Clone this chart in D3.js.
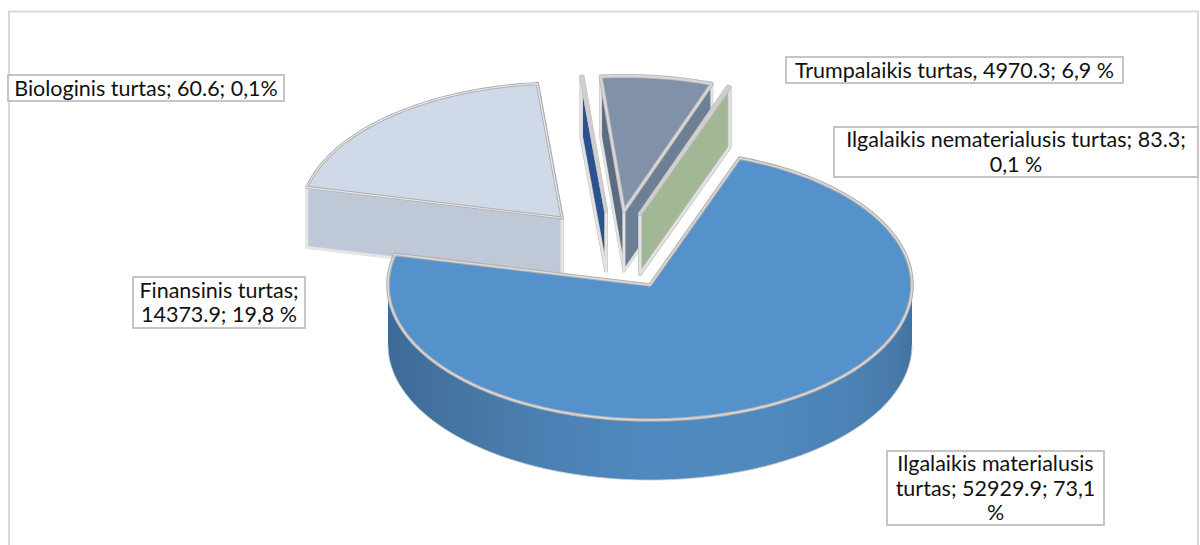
<!DOCTYPE html>
<html><head><meta charset="utf-8">
<script src="https://cdn.jsdelivr.net/npm/d3@7"></script>
<style>html,body{margin:0;padding:0;background:#fff;overflow:hidden}svg{display:block}</style>
</head><body><div id="c"></div>
<script>
const categories = ["Ilgalaikis materialusis turtas","Finansinis turtas","Biologinis turtas","Trumpalaikis turtas","Ilgalaikis nematerialusis turtas"];
const values = [52929.9,14373.9,60.6,4970.3,83.3];
const percentLabels = ["73,1 %","19,8 %","0,1%","6,9 %","0,1 %"];
const labelLines = [
  ["Ilgalaikis materialusis","turtas; 52929.9; 73,1","%"],
  ["Finansinis turtas;","14373.9; 19,8 %"],
  ["Biologinis turtas; 60.6; 0,1%"],
  ["Trumpalaikis turtas, 4970.3; 6,9 %"],
  ["Ilgalaikis nematerialusis turtas; 83.3;","0,1 %"]
];

const W=1200,H=545;
const svg=d3.select("#c").append("svg").attr("width",W).attr("height",H);
const defs=svg.append("defs");
const grad=defs.append("linearGradient").attr("id","mainWall").attr("gradientUnits","userSpaceOnUse")
  .attr("x1",386).attr("x2",914).attr("y1",0).attr("y2",0);
[[0,"#3d6a98"],[.12,"#44749f"],[.3,"#4b80b3"],[.5,"#5089bf"],[.72,"#5089bd"],[.88,"#4c82b5"],[.97,"#477aa9"],[1,"#41709e"]]
  .forEach(s=>grad.append("stop").attr("offset",s[0]).attr("stop-color",s[1]));

// outer chart frame, open at the bottom
svg.append("path").attr("d",`M9,${H}V11.5H1198V${H}`).attr("fill","none").attr("stroke","#d9d9d9").attr("stroke-width",2);

const sx=d3.scaleLinear().domain([-1,1]).range([-262,262]);
const sy=d3.scaleLinear().domain([-1,1]).range([-135,135]);
const depth=60;
const rad=d3.scaleLinear().domain([0,360]).range([0,2*Math.PI]);
const pie=d3.pie().sort(null).startAngle(rad(20)).endAngle(rad(380)).value(d=>d);
const arcs=pie(values);
const line=d3.line();

// explosion: apex position of each slice, in drawing order index
const apex=[[650,285],[562,218],[606,211],[624,211],[640,214]];
const pt=(i,a,dz=0)=>[apex[i][0]+sx(Math.sin(a)),apex[i][1]-sy(Math.cos(a))+dz];
const rim=(i,a0,a1,dz=0)=>{
  const n=Math.max(2,Math.ceil(Math.abs(a1-a0)/0.02));
  return d3.range(n+1).map(k=>pt(i,a0+(a1-a0)*k/n,dz));
};
const g=svg.append("g");
function shape(points,fill,outer="#b4b4b4",inner="#e2e2e2",wo=3.6,wi=1.8){
  const d=line(points)+"Z";
  g.append("path").attr("d",d).attr("fill",fill).attr("stroke",outer).attr("stroke-width",wo).attr("stroke-linejoin","round");
  g.append("path").attr("d",d).attr("fill","none").attr("stroke",inner).attr("stroke-width",wi).attr("stroke-linejoin","round");
}
const topFace=i=>[apex[i],...rim(i,arcs[i].startAngle,arcs[i].endAngle)];
// wall along a slice radius
const radial=(i,a)=>[apex[i],pt(i,a),pt(i,a,depth),[apex[i][0],apex[i][1]+depth]];

// Financial
shape(radial(1,arcs[1].endAngle),"#cfd9e8");
shape(radial(1,arcs[1].startAngle),"#bfc8d6","#dcdcdc","#e6e6e6",3,2.4);
shape(topFace(1),"#cfd9e8","#adadad","#e4e8ee",3,1.2);
// Biological
shape(radial(2,arcs[2].startAngle),"#2b5192","#c4c4c4","#e4e4e4",3.6,2.2);
shape(topFace(2),"#2b5192","#bdbdbd","#cfcfcf",4,3);
// Short-term
shape(radial(3,arcs[3].startAngle),"#5b6b82","#c8c8c8","#e4e4e4",3,2);
shape(radial(3,arcs[3].endAngle),"#6d7f95","#c8c8c8","#e4e4e4",3,2);
shape(topFace(3),"#8091a9","#b4b4b4","#d6d6d6",4,2.4);
// Intangible
shape(radial(4,arcs[4].endAngle),"#a2b894","#bdbdbd","#e2e2e2",4,2.6);
shape(topFace(4),"#a2b894","#bdbdbd","#cfcfcf",4,2.6);
// Tangible: front wall then top face
const wallPts=[...rim(0,rad(90),rad(270)),...rim(0,rad(270),rad(90),depth)];
g.append("path").attr("d",line(wallPts)+"Z").attr("fill","url(#mainWall)");
g.append("path").attr("d",line(rim(0,rad(270),rad(90),depth))).attr("fill","none").attr("stroke","#c9c9c9").attr("stroke-width",.8);
shape(topFace(0),"#5592cb","#b0b0b0","#dcdcdc",3.6,1.4);

// labels
const boxes=[[887,451,217,74],[133,277,172,51],[8,75,276,26],[786,57,337,26],[834,127,364,50]];
const lh=24.6;
boxes.forEach((b,i)=>{
  const l=svg.append("g");
  l.append("rect").attr("x",b[0]).attr("y",b[1]).attr("width",b[2]).attr("height",b[3])
    .attr("fill","#fff").attr("stroke","#bfbfbf").attr("stroke-width",1.8);
  const lines=labelLines[i];
  const y0=b[1]+b[3]/2-(lines.length-1)*lh/2;
  lines.forEach((t,k)=>{
    l.append("text").attr("x",b[0]+b[2]/2).attr("y",y0+k*lh).attr("dy","0.35em")
      .attr("text-anchor","middle").attr("font-family","Lato, 'Open Sans', sans-serif")
      .attr("font-size",21.5).attr("fill","#111").text(t);
  });
});
</script></body></html>
